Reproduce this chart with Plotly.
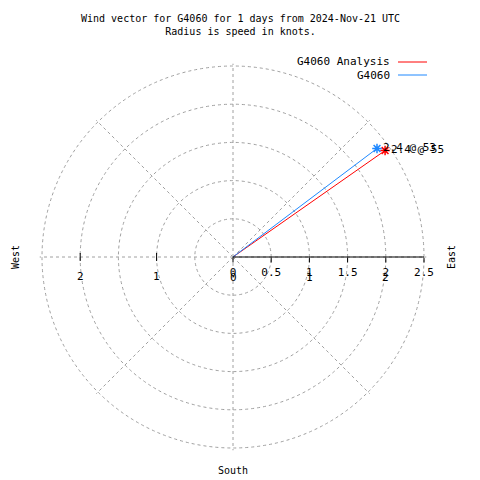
import plotly.graph_objects as go

# ---- data ----
series_names = ["G4060 Analysis", "G4060"]
speeds = [2.43, 2.36]          # knots (drawn length)
directions = [55, 53]          # compass degrees
colors = ["#ff0000", "#1e88ff"]
radial_ticks = [0, 0.5, 1, 1.5, 2, 2.5]
west_ticks = [1, 2]
dup_ticks = [0, 1, 2]
title_text = "Wind vector for G4060 for 1 days from 2024-Nov-21 UTC<br>Radius is speed in knots."

W = H = 480
FONT = "DejaVu Sans Mono"
cx, cy, R = 233, 257, 191   # pixel center / pixel radius of 2.5 kt
rmax = 2.5
raxis = 2.53                 # a bit beyond 2.5 so the outer grid circle is drawn
Rd = R * raxis / rmax
GRID = "#a0a0a0"

def px(xp):
    return xp / W

def py(yp):
    return 1 - yp / H

fig = go.Figure()
for name, s, d, c in zip(series_names, speeds, directions, colors):
    fig.add_trace(go.Scatterpolar(
        r=[0, s], theta=[d, d], mode="lines", line=dict(color=c, width=1),
        name=name, showlegend=False, hoverinfo="skip"))
    fig.add_trace(go.Scatterpolar(
        r=[s], theta=[d], mode="markers+text",
        marker=dict(symbol="asterisk-open", size=8, line=dict(color=c, width=1.5), color=c),
        text=[f"{s:.1f} @ {d}"], textposition="middle right",
        textfont=dict(family=FONT, size=11, color="black"),
        showlegend=False, hoverinfo="skip"))

fig.update_layout(
    width=W, height=H, margin=dict(l=0, r=0, t=0, b=0),
    paper_bgcolor="white", plot_bgcolor="white",
    font=dict(family=FONT, size=10, color="black"),
    polar=dict(
        domain=dict(x=[px(cx - Rd), px(cx + Rd)], y=[py(cy + Rd), py(cy - Rd)]),
        bgcolor="white",
        radialaxis=dict(range=[0, raxis], tickvals=radial_ticks,
                        ticktext=[f"{v:g}" for v in radial_ticks],
                        angle=0, showline=False,
                        ticks="outside", ticklen=5, tickcolor="black",
                        gridcolor=GRID, griddash="3px,3px", gridwidth=1,
                        tickfont=dict(family=FONT, size=11, color="black")),
        angularaxis=dict(rotation=90, direction="clockwise", tickmode="linear",
                         tick0=0, dtick=45, showticklabels=False, ticks="",
                         showline=False, gridcolor=GRID, griddash="3px,3px",
                         gridwidth=1),
    ),
)

ann = []
ann.append(dict(x=0.5, y=py(11), xref="paper", yref="paper", text=title_text,
                showarrow=False, xanchor="center", yanchor="top",
                font=dict(family=FONT, size=10)))
ann.append(dict(x=px(451), y=py(cy), xref="paper", yref="paper", text="East",
                showarrow=False, textangle=-90, xanchor="center", yanchor="middle",
                font=dict(family=FONT, size=10)))
ann.append(dict(x=px(15), y=py(cy), xref="paper", yref="paper", text="West",
                showarrow=False, textangle=-90, xanchor="center", yanchor="middle",
                font=dict(family=FONT, size=10)))
ann.append(dict(x=px(cx), y=py(470), xref="paper", yref="paper", text="South",
                showarrow=False, xanchor="center", yanchor="middle",
                font=dict(family=FONT, size=10)))
shapes = []
# solid east axis line (0 .. 2.5)
shapes.append(dict(type="line", xref="paper", yref="paper",
                   x0=px(cx), x1=px(cx + R), y0=py(cy), y1=py(cy),
                   line=dict(color="black", width=1)))
# west-side ticks and labels, plus the duplicated gnuplot x labels
for v in west_ticks:
    xw = cx - v * R / rmax
    shapes.append(dict(type="line", xref="paper", yref="paper",
                       x0=px(xw), x1=px(xw), y0=py(cy - 4), y1=py(cy + 4),
                       line=dict(color="black", width=1)))
    ann.append(dict(x=px(xw), y=py(cy + 19), xref="paper", yref="paper",
                    text=f"{v}", showarrow=False, xanchor="center", yanchor="middle",
                    font=dict(family=FONT, size=11)))
for v in dup_ticks:
    xe = cx + v * R / rmax
    ann.append(dict(x=px(xe), y=py(cy + 20), xref="paper", yref="paper",
                    text=f"{v}", showarrow=False, xanchor="center", yanchor="middle",
                    font=dict(family=FONT, size=11)))
# legend drawn gnuplot-style: text then line sample
for i, (name, c) in enumerate(zip(series_names, colors)):
    yl = 62 + 13 * i
    ann.append(dict(x=px(392), y=py(yl), xref="paper", yref="paper", text=name,
                    showarrow=False, xanchor="right", yanchor="middle",
                    font=dict(family=FONT, size=11)))
    shapes.append(dict(type="line", xref="paper", yref="paper",
                       x0=px(398), x1=px(427), y0=py(yl), y1=py(yl),
                       line=dict(color=c, width=1)))
fig.update_layout(annotations=ann, shapes=shapes)
fig.write_html("out.html", post_script="document.body.style.margin='0';",
               config={"displayModeBar": False, "staticPlot": True})
